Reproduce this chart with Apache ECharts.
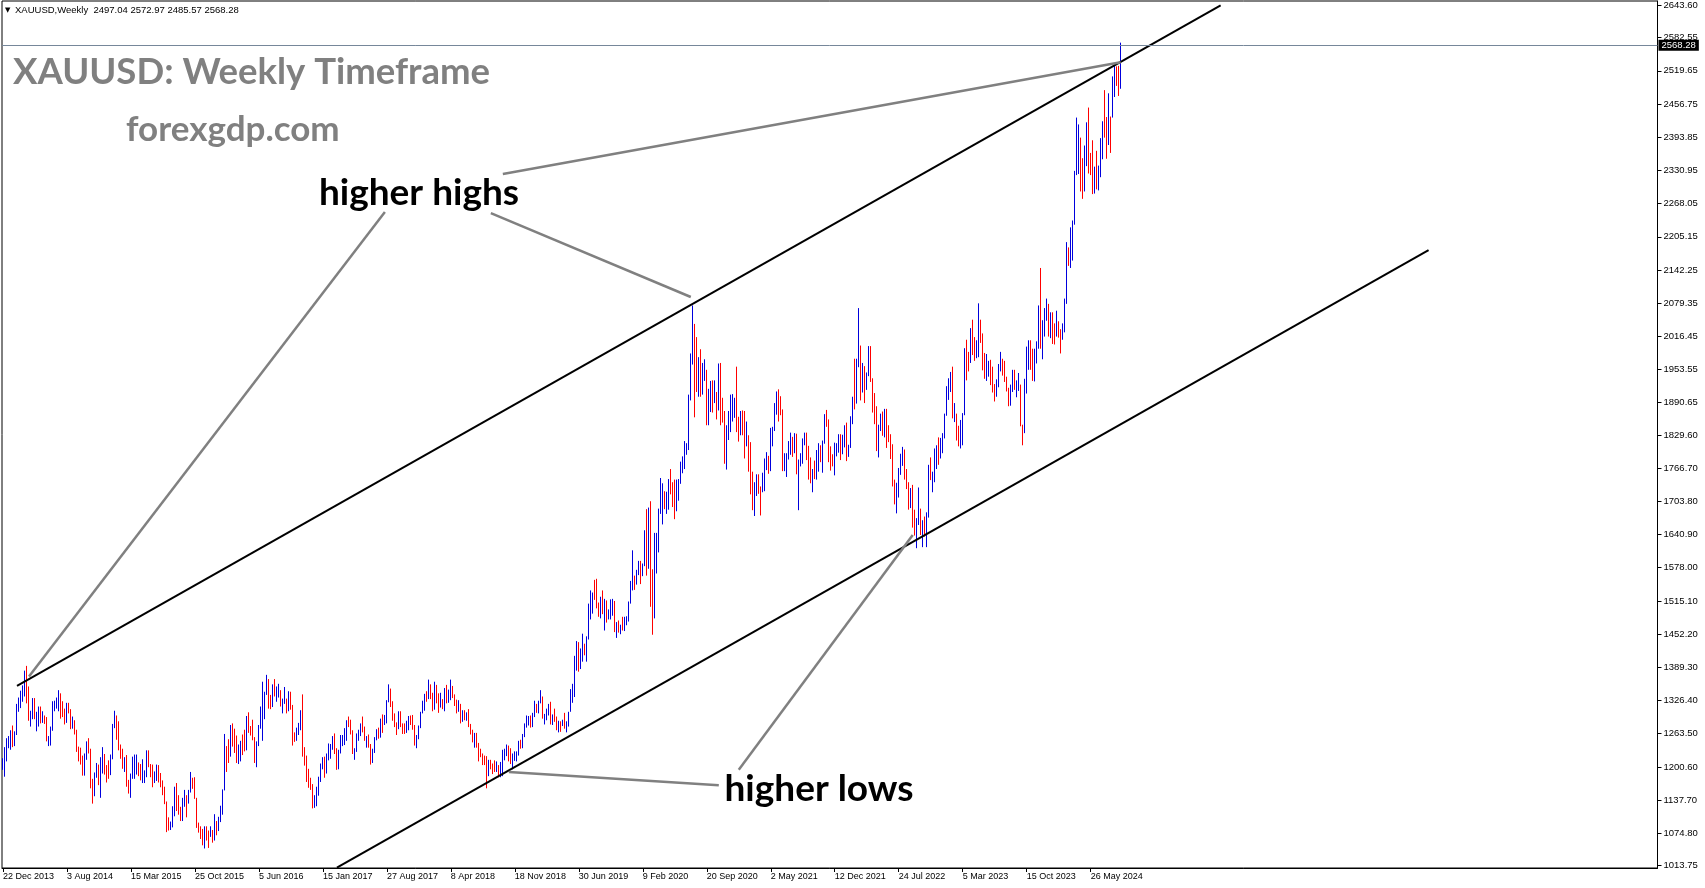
<!DOCTYPE html>
<html><head><meta charset="utf-8">
<script src="https://cdn.jsdelivr.net/npm/echarts@6/dist/echarts.min.js"></script>
<style>html,body{margin:0;padding:0;background:#fff;overflow:hidden}#c{width:1705px;height:888px}</style>
</head><body><div id="c"></div>
<script>
const firstWeek = '2013-12-22';
const slotCount = 828;
const dateTicks = ['22 Dec 2013','3 Aug 2014','15 Mar 2015','25 Oct 2015','5 Jun 2016','15 Jan 2017','27 Aug 2017','8 Apr 2018','18 Nov 2018','30 Jun 2019','9 Feb 2020','20 Sep 2020','2 May 2021','12 Dec 2021','24 Jul 2022','5 Mar 2023','15 Oct 2023','26 May 2024'];
const priceTicks = [1013.75,1074.80,1137.70,1200.60,1263.50,1326.40,1389.30,1452.20,1515.10,1578.00,1640.90,1703.80,1766.70,1829.60,1890.65,1953.55,2016.45,2079.35,2142.25,2205.15,2268.05,2330.95,2393.85,2456.75,2519.65,2582.55,2643.60];

const opens = [1203,1213,
1237,1247,1254,1264,1240,1263,1318,1323,1326,1339,1379,1335,1294,1303,1318,1294,1300,1302,1290,1293,1292,1250,1252,1274,1316,1316,1320,1338,1310,1307,1294,1309,1307,1280,1287,1268,1231,1216,1214,1192,1222,1238,1231,1171,1169,1186,1196,1167,1191,1222,1196,1195,
1186,1216,1277,1293,1283,1234,1227,1205,1213,1165,1152,1183,1199,1201,1207,1203,1178,1179,1188,1225,1204,1189,1168,1180,1201,1173,1168,1157,1131,1098,1094,1094,1113,1159,1134,1121,1103,1138,1145,1137,1156,1177,1163,1142,1088,1081,1076,1057,1085,1075,1065,1075,
1061,1098,1089,1097,1118,1158,1239,1230,1222,1270,1259,1254,1217,1222,1243,1234,1232,1292,1290,1273,1252,1212,1243,1276,1298,1315,1340,1366,1327,1323,1350,1335,1335,1340,1320,1321,1327,1310,1338,1316,1256,1251,1266,1275,1304,1225,1207,1178,1177,1160,1133,1133,
1151,1173,1196,1204,1190,1220,1234,1238,1257,1234,1201,1229,1249,1249,1254,1287,1283,1268,1228,1228,1254,1268,1280,1271,1254,1257,1242,1212,1229,1254,1268,1258,1290,1284,1291,1325,1346,1320,1297,1280,1274,1304,1280,1272,1269,1274,1295,1288,1281,1248,1256,1278,1303,
1320,1338,1332,1350,1333,1316,1347,1330,1323,1324,1313,1347,1325,1332,1344,1336,1323,1314,1319,1292,1302,1293,1299,1278,1270,1252,1256,1241,1231,1223,1214,1212,1184,1206,1201,1197,1194,1201,1192,1204,1220,1227,1233,1231,1209,1222,1222,1222,1248,1238,1257,1279,
1285,1289,1282,1298,1318,1314,1322,1329,1294,1298,1302,1313,1292,1292,1290,1275,1286,1279,1285,1277,1283,1305,1341,1341,1400,1409,1400,1416,1426,1419,1440,1497,1513,1526,1520,1506,1488,1517,1497,1505,1489,1490,1505,1514,1459,1468,1462,1464,1460,1476,1478,1511,
1552,1560,1557,1571,1589,1570,1584,1643,1585,1674,1530,1498,1617,1620,1682,1684,1727,1700,1702,1743,1735,1730,1684,1730,1743,1771,1774,1799,1810,1902,1975,2035,1944,1940,1964,1933,1940,1950,1862,1899,1930,1900,1902,1879,1951,1889,1871,1788,1839,1839,1882,1883,
1898,1849,1828,1856,1848,1814,1824,1784,1734,1700,1719,1745,1733,1728,1744,1776,1777,1768,1831,1843,1881,1904,1891,1877,1764,1781,1787,1808,1812,1802,1814,1763,1780,1781,1818,1828,1788,1754,1751,1761,1757,1768,1793,1783,1818,1865,1846,1788,1784,1783,1798,1811,
1829,1797,1817,1835,1791,1807,1860,1897,1889,1970,1989,1921,1958,1925,1945,1975,1931,1896,1883,1811,1846,1853,1850,1871,1840,1826,1811,1742,1707,1727,1766,1775,1802,1747,1737,1712,1716,1675,1644,1661,1695,1644,1657,1645,1681,1771,1751,1755,1797,1797,1793,1798,
1824,1865,1920,1926,1928,1865,1865,1842,1811,1856,1868,1989,1978,1969,2007,2004,1983,1990,2017,2011,1977,1946,1948,1961,1957,1921,1919,1925,1955,1962,1959,1943,1914,1889,1914,1940,1919,1924,1925,1848,1833,1932,1981,2006,1992,1940,1981,2001,2072,2004,2019,2053,2062,
2045,2049,2029,2018,2039,2024,2013,2035,2083,2179,2156,2165,2230,2330,2344,2391,2337,2301,2360,2415,2334,2327,2293,2333,2322,2327,2392,2411,2400,2386,2443,2431,2507,2512,2503,2497.04];

const highs = [1217,1238,
1255,1259,1270,1279,1268,1320,1332,1345,1355,1383,1392,1353,1307,1331,1331,1305,1315,1315,1306,1298,1295,1259,1277,1325,1326,1332,1346,1340,1325,1311,1322,1322,1310,1296,1289,1271,1239,1237,1222,1226,1249,1255,1235,1178,1190,1208,1205,1219,1238,1225,1204,1213,
1224,1282,1307,1298,1287,1243,1235,1219,1223,1176,1188,1220,1224,1224,1209,1206,1215,1194,1232,1232,1206,1205,1192,1205,1204,1189,1175,1163,1135,1105,1097,1126,1163,1170,1147,1125,1142,1157,1147,1157,1191,1180,1181,1142,1095,1088,1083,1088,1088,1080,1088,1081,
1111,1098,1106,1127,1158,1263,1240,1253,1280,1283,1273,1260,1243,1250,1262,1271,1297,1304,1278,1290,1257,1249,1280,1315,1362,1343,1375,1367,1337,1357,1367,1353,1358,1346,1330,1352,1330,1344,1343,1318,1266,1275,1284,1308,1338,1238,1222,1197,1180,1168,1147,1163,
1182,1207,1219,1220,1226,1245,1244,1259,1264,1236,1233,1261,1261,1274,1289,1296,1290,1270,1236,1264,1271,1283,1296,1277,1259,1262,1244,1235,1257,1272,1275,1292,1300,1299,1327,1357,1349,1325,1302,1285,1306,1306,1283,1283,1288,1297,1298,1299,1280,1261,1279,1305,1326,
1339,1344,1366,1357,1341,1362,1356,1340,1341,1329,1350,1356,1347,1366,1354,1338,1328,1327,1320,1308,1308,1304,1310,1282,1271,1265,1265,1246,1235,1226,1222,1221,1214,1214,1207,1213,1211,1204,1210,1233,1235,1243,1241,1236,1226,1230,1230,1250,1252,1263,1283,1298,
1297,1298,1303,1326,1320,1326,1346,1334,1301,1311,1320,1324,1300,1311,1296,1288,1287,1290,1303,1287,1305,1348,1358,1411,1439,1437,1425,1453,1434,1448,1510,1535,1531,1555,1557,1512,1523,1535,1519,1516,1499,1518,1519,1515,1475,1478,1470,1485,1485,1486,1514,1553,
1611,1563,1574,1591,1591,1586,1649,1689,1692,1704,1575,1644,1644,1690,1748,1738,1723,1722,1746,1765,1740,1745,1745,1746,1779,1789,1818,1814,1906,1984,2075,2040,2015,1977,1992,1966,1973,1953,1917,1932,1933,1933,1911,1965,1966,1900,1875,1848,1875,1906,1907,1900,
1959,1864,1875,1876,1875,1855,1829,1816,1760,1740,1755,1755,1732,1758,1785,1797,1790,1843,1845,1890,1912,1916,1903,1878,1795,1795,1818,1834,1826,1833,1832,1783,1795,1823,1834,1834,1809,1787,1765,1781,1801,1814,1810,1819,1869,1877,1859,1808,1793,1815,1814,1831,
1831,1830,1848,1853,1811,1865,1902,1974,1974,2070,1999,1966,1960,1948,1998,1998,1937,1909,1884,1849,1870,1874,1879,1879,1848,1831,1812,1745,1739,1767,1794,1807,1802,1765,1740,1729,1735,1688,1672,1730,1690,1668,1675,1683,1773,1787,1760,1804,1810,1825,1824,1833,
1870,1922,1937,1949,1959,1890,1870,1847,1858,1871,1994,2010,1987,2032,2048,2015,2009,2079,2048,2022,1985,1983,1970,1972,1959,1926,1935,1964,1987,1974,1970,1940,1919,1925,1953,1953,1933,1947,1925,1849,1936,1997,2009,2009,1993,1993,2007,2075,2146,2047,2070,2088,2078,
2062,2062,2041,2065,2045,2030,2041,2088,2195,2185,2223,2236,2330,2431,2418,2393,2354,2378,2422,2450,2364,2388,2338,2368,2340,2392,2424,2483,2432,2477,2433,2509,2531,2528,2529,2572.97];

const lows = [1195,1182,
1211,1236,1233,1238,1240,1261,1305,1312,1324,1334,1321,1288,1277,1291,1291,1268,1277,1283,1284,1282,1249,1240,1241,1269,1306,1311,1306,1292,1295,1281,1284,1302,1272,1273,1262,1229,1211,1205,1184,1184,1214,1226,1160,1131,1145,1180,1166,1142,1188,1186,1171,1178,
1185,1215,1274,1252,1232,1216,1197,1191,1163,1150,1142,1178,1178,1186,1183,1175,1170,1170,1181,1200,1181,1162,1170,1174,1171,1162,1147,1130,1077,1080,1081,1086,1107,1117,1110,1098,1098,1125,1105,1131,1152,1159,1140,1085,1076,1064,1052,1046,1061,1047,1068,1057,
1061,1071,1079,1096,1110,1156,1191,1208,1220,1239,1227,1208,1206,1211,1223,1230,1232,1265,1260,1251,1208,1200,1240,1273,1250,1291,1337,1311,1310,1314,1334,1324,1332,1315,1302,1320,1302,1306,1309,1241,1248,1250,1261,1270,1220,1203,1172,1161,1157,1122,1123,1126,
1146,1172,1196,1180,1188,1213,1216,1233,1225,1195,1196,1226,1240,1242,1250,1276,1262,1225,1214,1229,1250,1259,1266,1250,1237,1237,1205,1208,1227,1251,1254,1256,1265,1280,1283,1323,1314,1288,1276,1261,1272,1276,1263,1263,1265,1270,1280,1271,1241,1236,1253,1274,1302,
1307,1324,1329,1329,1306,1309,1321,1303,1313,1310,1306,1321,1322,1327,1331,1316,1302,1305,1283,1286,1289,1288,1276,1262,1247,1237,1237,1211,1219,1204,1204,1160,1183,1196,1187,1191,1191,1181,1181,1183,1213,1221,1211,1206,1196,1212,1211,1222,1235,1236,1257,1275,
1279,1275,1276,1295,1303,1302,1321,1292,1281,1289,1298,1281,1280,1286,1270,1266,1267,1278,1273,1266,1277,1305,1322,1333,1383,1381,1386,1400,1412,1400,1442,1480,1491,1517,1501,1485,1482,1490,1459,1474,1480,1480,1487,1456,1445,1455,1452,1459,1458,1469,1476,1510,
1535,1536,1546,1564,1547,1562,1581,1563,1576,1504,1451,1482,1567,1607,1680,1660,1689,1680,1688,1717,1693,1670,1685,1705,1737,1757,1765,1792,1801,1895,1963,1863,1911,1902,1902,1906,1932,1848,1848,1873,1872,1890,1859,1876,1848,1853,1775,1764,1820,1835,1855,1862,
1835,1817,1829,1829,1785,1808,1760,1717,1687,1676,1714,1718,1677,1721,1723,1763,1756,1761,1808,1837,1868,1855,1867,1761,1761,1750,1783,1792,1788,1795,1755,1687,1770,1775,1810,1782,1745,1738,1721,1746,1745,1760,1778,1758,1813,1845,1778,1762,1770,1753,1789,1796,
1782,1793,1806,1780,1788,1805,1850,1878,1889,1958,1895,1910,1890,1915,1941,1930,1872,1850,1799,1787,1837,1828,1825,1805,1816,1784,1732,1698,1681,1711,1754,1771,1745,1727,1688,1691,1654,1639,1615,1659,1640,1617,1637,1617,1673,1744,1721,1740,1765,1773,1785,1795,
1823,1866,1896,1911,1861,1854,1819,1808,1804,1810,1867,1933,1950,1966,1981,1970,1975,1977,2004,1952,1936,1932,1940,1924,1910,1893,1902,1920,1950,1942,1930,1912,1884,1885,1911,1915,1901,1913,1846,1810,1833,1908,1953,1953,1932,1931,1965,1993,1993,1973,2016,2046,2016,
2013,2002,2001,2016,2014,1984,2010,2024,2078,2150,2146,2160,2228,2322,2324,2291,2277,2291,2339,2325,2322,2286,2287,2295,2293,2318,2352,2393,2353,2379,2364,2431,2470,2491,2472,2485.57];

const closes = [1213,1237,
1247,1254,1264,1240,1263,1318,1323,1326,1339,1379,1335,1294,1303,1318,1294,1300,1302,1290,1293,1292,1250,1252,1274,1316,1316,1320,1338,1310,1307,1294,1309,1307,1280,1287,1268,1231,1216,1214,1192,1222,1238,1231,1171,1169,1186,1196,1167,1191,1222,1196,1195,1186,
1216,1277,1293,1283,1234,1227,1205,1213,1165,1152,1183,1199,1201,1207,1203,1178,1179,1188,1225,1204,1189,1168,1180,1201,1173,1168,1157,1131,1098,1094,1094,1113,1159,1134,1121,1103,1138,1145,1137,1156,1177,1163,1142,1088,1081,1076,1057,1085,1075,1065,1075,1061,
1098,1089,1097,1118,1158,1239,1230,1222,1270,1259,1254,1217,1222,1243,1234,1232,1292,1290,1273,1252,1212,1243,1276,1298,1315,1340,1366,1327,1323,1350,1335,1335,1340,1320,1321,1327,1310,1338,1316,1256,1251,1266,1275,1304,1225,1207,1178,1177,1160,1133,1133,1151,
1173,1196,1204,1190,1220,1234,1238,1257,1234,1201,1229,1249,1249,1254,1287,1283,1268,1228,1228,1254,1268,1280,1271,1254,1257,1242,1212,1229,1254,1268,1258,1290,1284,1291,1325,1346,1320,1297,1280,1274,1304,1280,1272,1269,1274,1295,1288,1281,1248,1256,1278,1303,1320,
1338,1332,1350,1333,1316,1347,1330,1323,1324,1313,1347,1325,1332,1344,1336,1323,1314,1319,1292,1302,1293,1299,1278,1270,1252,1256,1241,1231,1223,1214,1212,1184,1206,1201,1197,1194,1201,1192,1204,1220,1227,1233,1231,1209,1222,1222,1222,1248,1238,1257,1279,1285,
1289,1282,1298,1318,1314,1322,1329,1294,1298,1302,1313,1292,1292,1290,1275,1286,1279,1285,1277,1283,1305,1341,1341,1400,1409,1400,1416,1426,1419,1440,1497,1513,1526,1520,1506,1488,1517,1497,1505,1489,1490,1505,1514,1459,1468,1462,1464,1460,1476,1478,1511,1552,
1560,1557,1571,1589,1570,1584,1643,1585,1674,1530,1498,1617,1620,1682,1684,1727,1700,1702,1743,1735,1730,1684,1730,1743,1771,1774,1799,1810,1902,1975,2035,1944,1940,1964,1933,1940,1950,1862,1899,1930,1900,1902,1879,1951,1889,1871,1788,1839,1839,1882,1883,1898,
1849,1828,1856,1848,1814,1824,1784,1734,1700,1719,1745,1733,1728,1744,1776,1777,1768,1831,1843,1881,1904,1891,1877,1764,1781,1787,1808,1812,1802,1814,1763,1780,1781,1818,1828,1788,1754,1751,1761,1757,1768,1793,1783,1818,1865,1846,1788,1784,1783,1798,1811,1829,
1797,1817,1835,1791,1807,1860,1897,1889,1970,1989,1921,1958,1925,1945,1975,1931,1896,1883,1811,1846,1853,1850,1871,1840,1826,1811,1742,1707,1727,1766,1775,1802,1747,1737,1712,1716,1675,1644,1661,1695,1644,1657,1645,1681,1771,1751,1755,1797,1797,1793,1798,1824,
1865,1920,1926,1928,1865,1865,1842,1811,1856,1868,1989,1978,1969,2007,2004,1983,1990,2017,2011,1977,1946,1948,1961,1957,1921,1919,1925,1955,1962,1959,1943,1914,1889,1914,1940,1919,1924,1925,1848,1833,1932,1981,2006,1992,1940,1981,2001,2072,2004,2019,2053,2062,2045,
2049,2029,2018,2039,2024,2013,2035,2083,2179,2156,2165,2230,2330,2344,2391,2337,2301,2360,2415,2334,2327,2293,2333,2322,2327,2392,2411,2400,2386,2443,2431,2507,2512,2503,2497,2568.28];

const lastPrice = 2568.28;
const upperChannel = [[6.5, 1354], [609, 2643.6]];
const lowerChannel = [[167, 1009.6], [713.4, 2180]];
const highPointers = [
  [[191.4, 2252], [13, 1372]],
  [[244.2, 2250], [344.2, 2091]],
  [[250.1, 2324], [558.5, 2536]]
];
const lowPointers = [
  [[358.4, 1166], [253.4, 1191]],
  [[368.1, 1195], [455.1, 1640]]
];

const MONTHS = ['Jan','Feb','Mar','Apr','May','Jun','Jul','Aug','Sep','Oct','Nov','Dec'];
const weekLabels = [];
const t0 = Date.parse(firstWeek + 'T00:00:00Z');
for (let k = 0; k < slotCount; k++) {
  const d = new Date(t0 + k * 7 * 86400000);
  weekLabels.push(d.getUTCDate() + ' ' + MONTHS[d.getUTCMonth()] + ' ' + d.getUTCFullYear());
}
const candles = closes.map((c, i) => [opens[i], c, lows[i], highs[i]]);
const showTick = (idx, val) => idx < closes.length && dateTicks.indexOf(val) >= 0;

const lineSeries = (pts, color, width) => ({
  type: 'line', data: pts, symbol: 'none', silent: true, clip: true, animation: false,
  lineStyle: { color: color, width: width }, z: 4
});

const AX = '"Liberation Sans", Arial, sans-serif';
const chart = echarts.init(document.getElementById('c'), null, { renderer: 'canvas' });
chart.setOption({
  animation: false,
  backgroundColor: '#fff',
  grid: { left: 1.5, right: 47.5, top: 1, bottom: 20, show: true, borderColor: '#000', borderWidth: 1, backgroundColor: '#fff' },
  xAxis: {
    type: 'category', data: weekLabels, boundaryGap: true,
    axisLine: { show: true, lineStyle: { color: '#000', width: 1 } },
    axisTick: { show: true, alignWithLabel: true, length: 4, interval: showTick, lineStyle: { color: '#000' } },
    axisLabel: { interval: showTick, align: 'left', margin: 4, color: '#000', fontSize: 9, fontFamily: AX },
    splitLine: { show: false }
  },
  yAxis: {
    type: 'value', position: 'right', min: 1009.0, max: 2651.9, scale: true,
    axisLine: { show: true, lineStyle: { color: '#000', width: 1 } },
    axisTick: { show: true, length: 4, customValues: priceTicks, lineStyle: { color: '#000' } },
    axisLabel: { customValues: priceTicks, formatter: v => v.toFixed(2), margin: 6, color: '#000', fontSize: 9.5, fontFamily: AX },
    splitLine: { show: false }
  },
  series: [
    {
      type: 'candlestick', data: candles, barWidth: 1, z: 3,
      itemStyle: { color: '#0000dd', color0: '#ff0000', borderColor: '#0000dd', borderColor0: '#ff0000', borderWidth: 1 },
      markLine: {
        silent: true, symbol: 'none', animation: false,
        lineStyle: { color: '#76879a', width: 1, type: 'solid' },
        label: { show: true, position: 'end', distance: 1, formatter: lastPrice.toFixed(2), color: '#fff', backgroundColor: '#000', padding: [1, 3, 0, 3], fontSize: 9.5, fontFamily: AX },
        data: [{ yAxis: lastPrice }]
      }
    },
    lineSeries(upperChannel, '#000', 2),
    lineSeries(lowerChannel, '#000', 2),
    ...highPointers.map(p => lineSeries(p, '#808080', 2.5)),
    ...lowPointers.map(p => lineSeries(p, '#808080', 2.5))
  ],
  graphic: [
    { type: 'text', x: 5, y: 10, style: { text: '▼', font: '7px "DejaVu Sans"', fill: '#000', verticalAlign: 'middle' }, z: 10 },
    { type: 'text', x: 15, y: 10, style: { text: 'XAUUSD,Weekly  2497.04 2572.97 2485.57 2568.28', font: '9.5px ' + AX, fill: '#000', verticalAlign: 'middle' }, z: 10 },
    { type: 'text', x: 13, y: 72, style: { text: 'XAUUSD: Weekly Timeframe', font: 'bold 36.5px Lato', fill: '#808080', verticalAlign: 'middle' }, z: 10 },
    { type: 'text', x: 126, y: 129.5, style: { text: 'forexgdp.com', font: 'bold 35px Lato', fill: '#808080', verticalAlign: 'middle' }, z: 10 },
    { type: 'text', x: 419, y: 193, style: { text: 'higher highs', font: 'bold 37px Lato', fill: '#000', align: 'center', verticalAlign: 'middle' }, z: 10 },
    { type: 'text', x: 819, y: 789, style: { text: 'higher lows', font: 'bold 37px Lato', fill: '#000', align: 'center', verticalAlign: 'middle' }, z: 10 }
  ]
});
</script>
</body></html>
